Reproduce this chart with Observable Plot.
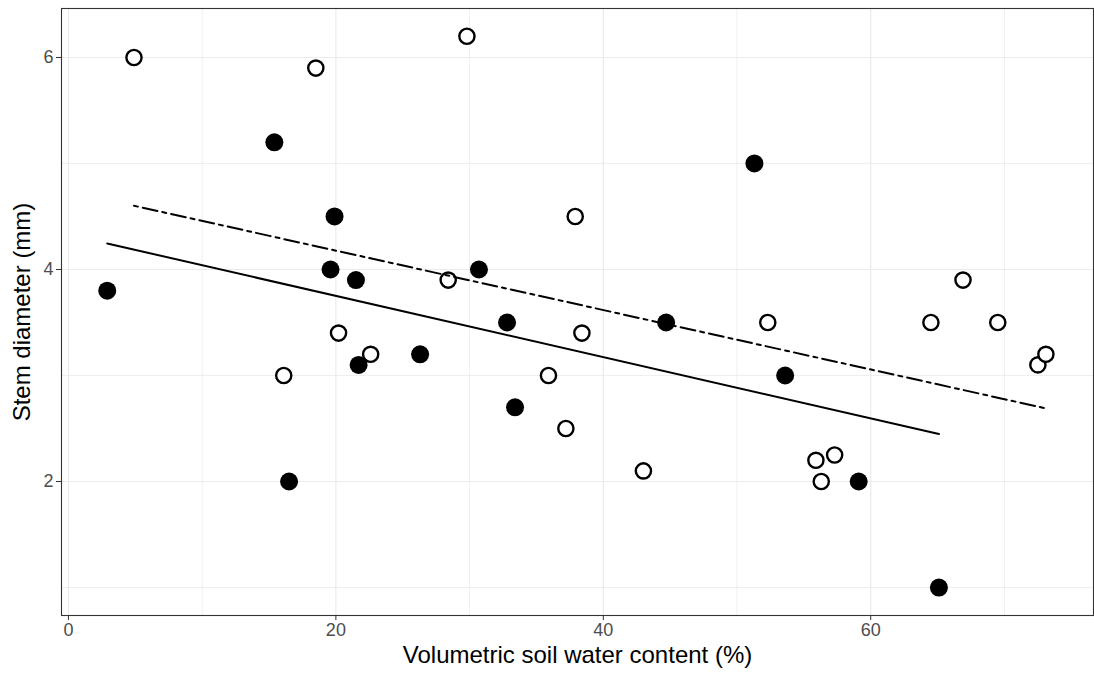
<!DOCTYPE html>
<html>
<head>
<meta charset="utf-8">
<script src="https://cdn.jsdelivr.net/npm/d3@7"></script>
<script src="https://cdn.jsdelivr.net/npm/@observablehq/plot@0.6"></script>
<style>
  html, body { margin: 0; padding: 0; background: #fff; }
  #chart svg { display: block; font-family: "Liberation Sans", Arial, sans-serif; }
</style>
</head>
<body>
<div id="chart"></div>
<script>
// Group A (filled circles, solid regression line)
const filledX = [2.9, 15.4, 16.5, 19.9, 19.6, 21.5, 21.7, 26.3, 30.7, 32.8, 33.4, 44.7, 51.3, 53.6, 59.1, 65.1];
const filledY = [3.8, 5.2, 2.0, 4.5, 4.0, 3.9, 3.1, 3.2, 4.0, 3.5, 2.7, 3.5, 5.0, 3.0, 2.0, 1.0];
// Group B (open circles, dot-dash regression line)
const openX = [4.9, 16.1, 18.5, 20.2, 22.6, 28.4, 29.8, 35.9, 37.2, 37.9, 38.4, 43.0, 52.3, 55.9, 56.3, 57.3, 64.5, 66.9, 69.5, 72.5, 73.1];
const openY = [6.0, 3.0, 5.9, 3.4, 3.2, 3.9, 6.2, 3.0, 2.5, 4.5, 3.4, 2.1, 3.5, 2.2, 2.0, 2.25, 3.5, 3.9, 3.5, 3.1, 3.2];

const xMajor = [0, 20, 40, 60];
const xMinor = [10, 30, 50, 70];
const yMajor = [2, 4, 6];
const yMinor = [1, 3, 5];

const xTitle = "Volumetric soil water content (%)";
const yTitle = "Stem diameter (mm)";

const filled = filledX.map((x, i) => ({x, y: filledY[i]}));
const open = openX.map((x, i) => ({x, y: openY[i]}));

const grid = "#EBEBEB";
const fmt = d => String(d);

const chart = Plot.plot({
  width: 1094,
  height: 677,
  marginLeft: 61,
  marginRight: 1,
  marginTop: 8,
  marginBottom: 62,
  x: {domain: [-0.52, 76.66]},
  y: {domain: [0.736, 6.462]},
  marks: [
    Plot.ruleX(xMinor, {stroke: grid, strokeWidth: 0.8}),
    Plot.ruleY(yMinor, {stroke: grid, strokeWidth: 0.8}),
    Plot.ruleX(xMajor, {stroke: grid, strokeWidth: 1.2}),
    Plot.ruleY(yMajor, {stroke: grid, strokeWidth: 1.2}),
    Plot.axisX({ticks: xMajor, tickFormat: fmt, tickSize: 5, tickPadding: 3, stroke: "#333333", fill: "#4D4D4D", fontSize: 18, label: null}),
    Plot.axisY({ticks: yMajor, tickFormat: fmt, tickSize: 5, tickPadding: 3, stroke: "#333333", fill: "#4D4D4D", fontSize: 18, label: null}),
    Plot.dot(filled, {x: "x", y: "y", r: 9, fill: "black"}),
    Plot.dot(open, {x: "x", y: "y", r: 7.6, fill: "white", stroke: "black", strokeWidth: 2.4}),
    Plot.linearRegressionY(filled, {x: "x", y: "y", ci: 0, stroke: "black", strokeWidth: 2}),
    Plot.linearRegressionY(open, {x: "x", y: "y", ci: 0, stroke: "black", strokeWidth: 2, strokeDasharray: "4,5,15,5"}),
    Plot.frame({stroke: "#333333", strokeWidth: 1.1}),
    Plot.text([xTitle], {frameAnchor: "bottom", dy: 47, fontSize: 24, fill: "black", textAnchor: "middle", text: d => d}),
    Plot.text([yTitle], {frameAnchor: "left", dx: -39, rotate: -90, fontSize: 24, fill: "black", textAnchor: "middle", text: d => d})
  ]
});
document.getElementById("chart").appendChild(chart);
</script>
</body>
</html>
